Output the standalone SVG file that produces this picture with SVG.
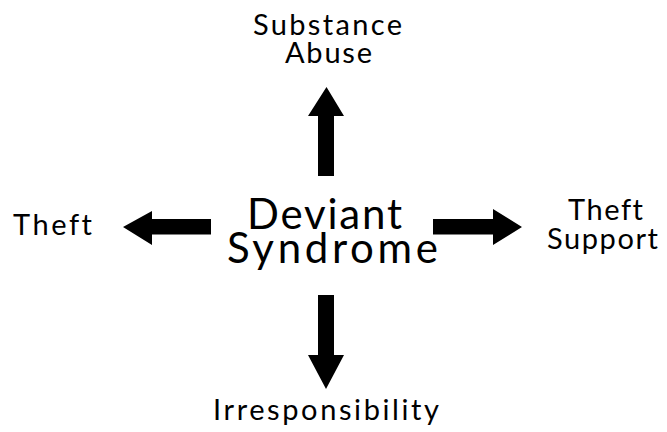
<svg xmlns="http://www.w3.org/2000/svg" width="667" height="432" viewBox="0 0 667 432">
<style>
text{font-family:Lato,"Open Sans","Liberation Sans",sans-serif;fill:#000;text-anchor:middle;font-variant-ligatures:none;font-feature-settings:"liga" 0}
.s{font-size:29px}
.b{font-size:42px}
.arr{fill:#000}
</style>
<rect width="667" height="432" fill="#fff"/>
<g id="center"><text class="b" x="324.5" y="229" textLength="155" lengthAdjust="spacing">Deviant</text><text class="b" x="332.5" y="263" textLength="211" lengthAdjust="spacing">Syndrome</text></g>
<g id="substance"><text class="s" x="327.5" y="35" textLength="149" lengthAdjust="spacing">Substance</text><text class="s" x="328.5" y="63" textLength="87" lengthAdjust="spacing">Abuse</text></g>
<g id="theft"><text class="s" x="52.5" y="235" textLength="79" lengthAdjust="spacing">Theft</text></g>
<g id="theftsupport"><text class="s" x="605.5" y="220" textLength="75" lengthAdjust="spacing">Theft</text><text class="s" x="602.5" y="249" textLength="111" lengthAdjust="spacing">Support</text></g>
<g id="irresponsibility"><text class="s" x="326" y="420" textLength="226" lengthAdjust="spacing">Irresponsibility</text></g>
<g id="connectors">
<polygon class="arr" points="318,176 318,116 308,116 326.5,87 344,116 334,116 334,176"/>
<polygon class="arr" points="211,219 152,219 152,211 123,227 152,245 152,234.5 211,234.5"/>
<polygon class="arr" points="433,219 493,219 493,209 522,227 493,245 493,234.5 433,234.5"/>
<polygon class="arr" points="318,295 318,355 308,355 326,389 344,355 334,355 334,295"/>
</g>
</svg>
